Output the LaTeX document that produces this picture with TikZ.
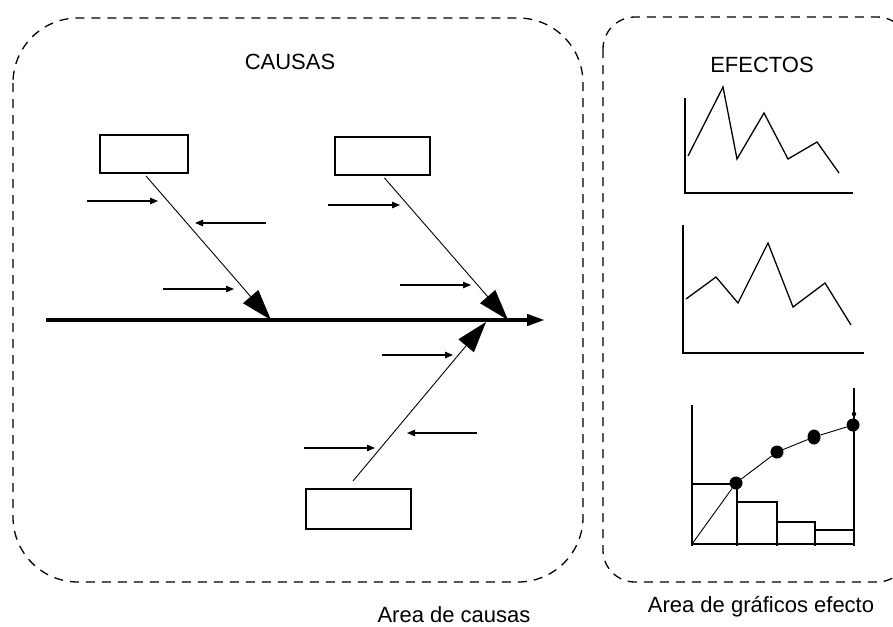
\documentclass[tikz,border=0pt]{standalone}
\usepackage{fontspec}
\setmainfont{Liberation Sans}
\usetikzlibrary{arrows.meta,shapes.geometric}
\begin{document}
\begin{tikzpicture}[x=1pt,y=-1pt,
  zone/.style={line width=1.3pt, dash pattern=on 9pt off 7pt},
  cbox/.style={draw, line width=1.4pt, inner sep=0pt},
  bone/.style={line width=0.9pt, -{Triangle[length=31pt,width=20pt]}},
  subarr/.style={line width=1.2pt, -{Triangle[length=8pt,width=6.5pt]}},
  spine/.style={line width=4pt, -{Triangle[length=18pt,width=11pt]}},
  lbl/.style={font=\fontsize{22}{26}\selectfont, inner sep=0pt, anchor=base},
  plotline/.style={line width=1.3pt},
  axisline/.style={line width=1.5pt},
  dot/.style={circle, fill, inner sep=0pt, minimum size=13pt}]
\useasboundingbox (0,0) rectangle (893,626);
\fill[white] (0,0) rectangle (893,626);

% zones
\draw[zone, rounded corners=65pt] (13,18) rectangle (583,582);
\draw[zone, rounded corners=32pt] (603,17) rectangle (909,582);

% labels
\node[lbl] (tcausas) at (290,69) {CAUSAS};
\node[lbl] (tefectos) at (762,72) {EFECTOS};
\node[lbl] (acausas) at (454,622) {Area de causas};
\node[lbl] (aefecto) at (761,612) {Area de gráficos efecto};

% boxes
\node[cbox, minimum width=88pt, minimum height=38pt] (b1) at (144,154) {};
\node[cbox, minimum width=95pt, minimum height=38pt] (b2) at (382.5,156) {};
\node[cbox, minimum width=105pt, minimum height=40pt] (b3) at (358.5,509) {};

% spine
\coordinate (s0) at (46,320);
\coordinate (s1) at (545,320);
\draw[spine] (s0) -- (s1);

% bones
\coordinate (t1) at (271,320);
\coordinate (t2) at (508,320);
\coordinate (t3) at (486,322);
\coordinate (c3) at (353,481);
\draw[bone, shorten <=3pt] (b1.south) -- (t1);
\draw[bone, shorten <=3pt] (b2.south) -- (t2);
\draw[bone] (c3) -- (t3);

% sub-causes
\coordinate (a1s) at (87,201);  \coordinate (a1e) at (158,201);
\coordinate (a2s) at (266,223); \coordinate (a2e) at (195,223);
\coordinate (a3s) at (163,289); \coordinate (a3e) at (234,289);
\coordinate (a4s) at (328,205); \coordinate (a4e) at (400,205);
\coordinate (a5s) at (400,285); \coordinate (a5e) at (471,285);
\coordinate (a6s) at (382,355); \coordinate (a6e) at (453,355);
\coordinate (a7s) at (304,448); \coordinate (a7e) at (375,448);
\coordinate (a8s) at (477,433); \coordinate (a8e) at (407,433);
\draw[subarr] (a1s) -- (a1e);
\draw[subarr] (a2s) -- (a2e);
\draw[subarr] (a3s) -- (a3e);
\draw[subarr] (a4s) -- (a4e);
\draw[subarr] (a5s) -- (a5e);
\draw[subarr] (a6s) -- (a6e);
\draw[subarr] (a7s) -- (a7e);
\draw[subarr] (a8s) -- (a8e);

% chart 1
\draw[axisline] (685,98) -- (685,193) -- (853,193);
\draw[plotline] (688,156) -- (723,87) -- (737,159) -- (764,113) -- (788,159) -- (817,142) -- (839,173);

% chart 2
\draw[axisline] (683,225) -- (683,353) -- (864,353);
\draw[plotline] (686,299) -- (716,277) -- (738,303) -- (768,243) -- (793,307) -- (825,283) -- (851,325);

% chart 3 (Pareto)
\draw[axisline] (692,405) -- (692,544) -- (854,544);
\draw[axisline] (854,388) -- (854,546);
\draw[axisline] (692,484) -- (737,484) -- (737,546);
\draw[axisline] (737,502) -- (777,502) -- (777,546);
\draw[axisline] (777,522) -- (815,522) -- (815,546);
\draw[axisline] (815,530) -- (854,530);
\draw[axisline] (692,544) -- (692,546);
\node[dot] (p1) at (736,483) {};
\node[dot] (p2) at (777,452) {};
\node[ellipse, fill, inner sep=0pt, minimum width=13pt, minimum height=15pt] (p3) at (814,437) {};
\node[dot] (p4) at (853,425) {};
\node[circle, fill, inner sep=0pt, minimum size=4.5pt] (p5) at (854,414) {};
\coordinate (p0) at (692,544);
\draw[line width=0.9pt] (p0) -- (p1) -- (p2) -- (p3) -- (p4);
\end{tikzpicture}
\end{document}
